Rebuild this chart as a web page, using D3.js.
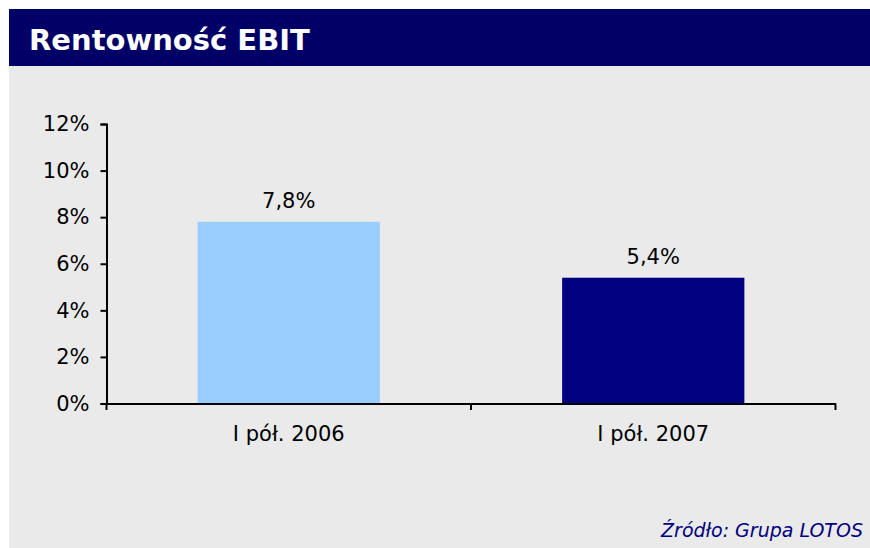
<!DOCTYPE html>
<html>
<head>
<meta charset="utf-8">
<script src="https://cdn.jsdelivr.net/npm/d3@7"></script>
<style>
  body { margin: 0; background: #ffffff; }
  svg { display: block; }
</style>
</head>
<body>
<div id="chart"></div>
<script>
// Chart data
const categories = ["I pół. 2006", "I pół. 2007"];
const values = [7.8, 5.4];
const valueLabels = ["7,8%", "5,4%"];
const yTicks = [0, 2, 4, 6, 8, 10, 12];
const barColors = ["#99ccff", "#000080"];

const width = 870, height = 548;
const font = "'DejaVu Sans', sans-serif";

const svg = d3.select("#chart")
    .append("svg")
    .attr("width", width)
    .attr("height", height);

// panel background and title bar
svg.append("rect")
    .attr("x", 9).attr("y", 9)
    .attr("width", width - 9).attr("height", height - 9)
    .attr("fill", "#eaeaea");

svg.append("rect")
    .attr("x", 9).attr("y", 9)
    .attr("width", width - 9).attr("height", 57)
    .attr("fill", "#000066");

svg.append("text")
    .attr("x", 29).attr("y", 50)
    .attr("fill", "#ffffff")
    .style("font-family", font)
    .style("font-weight", "bold")
    .style("font-size", "29px")
    .text("Rentowność EBIT");

// scales
const x = d3.scaleBand()
    .domain(categories)
    .range([106.5, 835.5])
    .paddingInner(0)
    .paddingOuter(0);

const y = d3.scaleLinear()
    .domain([0, 12])
    .range([403.5, 124]);

const barW = x.bandwidth() * 0.5;

// bars
svg.selectAll("rect.bar")
    .data(values)
    .enter()
    .append("rect")
    .classed("bar", true)
    .attr("x", (d, i) => x(categories[i]) + (x.bandwidth() - barW) / 2)
    .attr("y", d => y(d))
    .attr("width", barW)
    .attr("height", d => y(0) - y(d))
    .attr("fill", (d, i) => barColors[i]);

// value labels
svg.selectAll("text.val")
    .data(values)
    .enter()
    .append("text")
    .classed("val", true)
    .attr("x", (d, i) => x(categories[i]) + x.bandwidth() / 2)
    .attr("y", d => y(d) - 14)
    .attr("text-anchor", "middle")
    .style("font-family", font)
    .style("font-size", "21px")
    .attr("fill", "#000")
    .text((d, i) => valueLabels[i]);

// y axis
const yAxis = svg.append("g")
    .attr("transform", "translate(106.5,0)")
    .call(d3.axisLeft(y).tickValues(yTicks).tickSize(6).tickPadding(11).tickFormat(d => d + "%"));
yAxis.select(".domain").attr("stroke", "#000").attr("stroke-width", 2);
yAxis.selectAll(".tick line").attr("stroke", "#000").attr("stroke-width", 2);
yAxis.selectAll(".tick text")
    .style("font-family", font)
    .style("font-size", "21px")
    .attr("fill", "#000");

// x axis
const xAxis = svg.append("g")
    .attr("transform", "translate(0,403.5)")
    .call(d3.axisBottom(x).tickSize(0).tickPadding(23));
xAxis.select(".domain").attr("stroke", "#000").attr("stroke-width", 2);
xAxis.selectAll(".tick text")
    .style("font-family", font)
    .style("font-size", "21px")
    .attr("fill", "#000");

// category boundary ticks
const bounds = categories.map(c => x(c)).concat([x.range()[1]]);
svg.selectAll("line.bound")
    .data(bounds)
    .enter()
    .append("line")
    .classed("bound", true)
    .attr("x1", d => d).attr("x2", d => d)
    .attr("y1", 403.5).attr("y2", 410)
    .attr("stroke", "#000")
    .attr("stroke-width", 2);

// source note
svg.append("text")
    .attr("x", 863).attr("y", 537)
    .attr("text-anchor", "end")
    .attr("fill", "#000080")
    .style("font-family", font)
    .style("font-style", "italic")
    .style("font-size", "19px")
    .text("Źródło: Grupa LOTOS");
</script>
</body>
</html>
